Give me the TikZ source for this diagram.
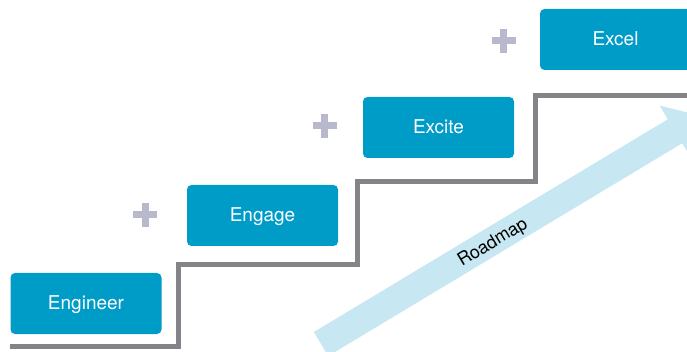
\documentclass[tikz,border=0pt]{standalone}
\usepackage{fontspec}
\setmainfont{TeX Gyre Heros}
\definecolor{boxblue}{HTML}{009CC8}
\definecolor{roadblue}{HTML}{C7E8F2}
\definecolor{stairgray}{HTML}{848488}
\definecolor{plusgray}{HTML}{B9B9CD}
\begin{document}
\begin{tikzpicture}[x=1pt,y=-1pt,
  stepbox/.style={fill=boxblue,text=white,rounded corners=4.5pt,
    minimum width=151pt,minimum height=61pt,inner sep=0pt,
    text height=12pt,text depth=0pt,
    font=\fontsize{19}{22}\selectfont},
  stair/.style={stairgray,line width=5pt,line join=miter},
  plussign/.pic={
    \fill[plusgray] (-12,-3.5) rectangle (12,3.5);
    \fill[plusgray] (-3.5,-12) rectangle (3.5,12);
  }]
\useasboundingbox (0,0) rectangle (687,352);
\clip (0,0) rectangle (687,352);

% roadmap arrow rising to the upper right
\begin{scope}[shift={(321,344)},rotate=31]
  \fill[roadblue] (0,-14) -- (413,-14) -- (413,-30) -- (443,0)
    -- (413,30) -- (413,14) -- (0,14) -- cycle;
\end{scope}
\node[rotate=31,font=\fontsize{18}{21}\selectfont] (road) at (493,243) {Roadmap};

% staircase
\draw[stair] (10,346.7) -- (178.5,346.7) -- (178.5,265) -- (357,265)
  -- (357,181.5) -- (535.5,181.5) -- (535.5,95.5) -- (700,95.5);

% steps
\node[stepbox] (engineer) at (86,303.5) {Engineer};
\node[stepbox] (engage) at (262.5,215.5) {Engage};
\node[stepbox] (excite) at (438.5,127.5) {Excite};
\node[stepbox] (excel) at (615.5,39.5) {Excel};

% plus signs between steps
\pic at (145,215) {plussign};
\pic at (324.5,126) {plussign};
\pic at (503.5,41) {plussign};
\end{tikzpicture}
\end{document}
